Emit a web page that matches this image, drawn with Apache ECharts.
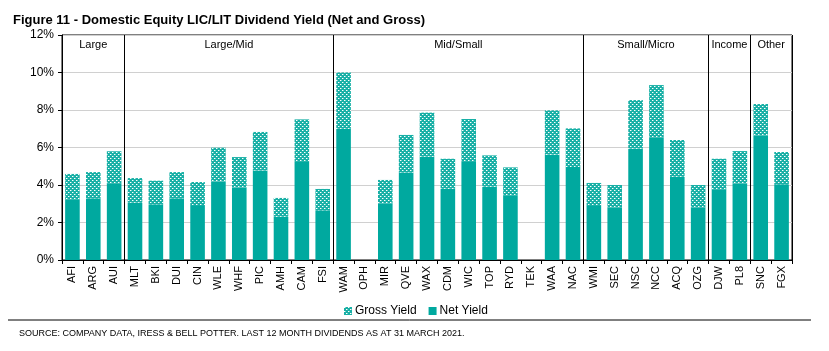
<!DOCTYPE html>
<html>
<head>
<meta charset="utf-8">
<script src="https://cdn.jsdelivr.net/npm/echarts@6/dist/echarts.min.js"></script>
<style>
  html, body { margin: 0; padding: 0; background: #fff; }
  #chart { width: 829px; height: 351px; }
</style>
</head>
<body>
<div id="chart"></div>
<script>
// tickers in chart order
var categories = ['AFI','ARG','AUI',
  'MLT','BKI','DUI','CIN','WLE','WHF','PIC','AMH','CAM','FSI',
  'WAM','OPH','MIR','QVE','WAX','CDM','WIC','TOP','RYD','TEK','WAA','NAC',
  'WMI','SEC','NSC','NCC','ACQ','OZG',
  'DJW','PL8',
  'SNC','FGX']

// net yield (%)
var netYield = [3.24, 3.29, 4.09,
  3.06, 2.97, 3.29, 2.93, 4.18, 3.86, 4.78, 2.31, 5.23, 2.65,
  7.00, 0, 3.02, 4.67, 5.51, 3.80, 5.23, 3.91, 3.45, 0, 5.62, 4.96,
  2.88, 2.79, 5.94, 6.52, 4.44, 2.79,
  3.77, 4.07,
  6.63, 4.04]

// gross yield (%), incl. franking
var grossYield = [4.59, 4.69, 5.80,
  4.37, 4.23, 4.69, 4.16, 5.99, 5.49, 6.83, 3.31, 7.50, 3.79,
  10.00, 0, 4.27, 6.67, 7.86, 5.40, 7.52, 5.58, 4.94, 0, 7.98, 7.02,
  4.11, 4.00, 8.53, 9.33, 6.40, 4.00,
  5.40, 5.81,
  8.32, 5.76]

// groups: [label, first ticker, last ticker]
var groups = [
  ['Large', 'AFI', 'AUI'],
  ['Large/Mid', 'MLT', 'FSI'],
  ['Mid/Small', 'WAM', 'NAC'],
  ['Small/Micro', 'WMI', 'OZG'],
  ['Income', 'DJW', 'PL8'],
  ['Other', 'SNC', 'FGX']
]

var yTicks = [0, 2, 4, 6, 8, 10, 12]

var TEAL = '#00A99F'

// stacked part = gross - net
var frankingPart = grossYield.map(function (g, i) {
  return +(g - netYield[i]).toFixed(2)
})

// index where each group starts (used for the divider lines)
var groupStarts = groups.slice(1).map(function (g) { return categories.indexOf(g[1]) })

// dotted pattern for gross yield
function makePattern() {
  var c = document.createElement('canvas')
  c.width = 4
  c.height = 4
  var ctx = c.getContext('2d')
  ctx.fillStyle = '#19b0a6'
  ctx.fillRect(0, 0, 4, 4)
  ctx.fillStyle = '#ffffff'
  ctx.fillRect(0, 0, 1, 1)
  ctx.fillRect(2, 2, 1, 1)
  ctx.fillStyle = '#7fd4cd'
  ctx.fillRect(1, 0, 1, 1)
  ctx.fillRect(3, 2, 1, 1)
  return c
}
var grossFill = { image: makePattern(), repeat: 'repeat' }

var chart = echarts.init(document.getElementById('chart'))

chart.setOption({
  animation: false,
  textStyle: { fontFamily: 'Liberation Sans, Arial, sans-serif' },
  title: [{
    text: 'Figure 11 - Domestic Equity LIC/LIT Dividend Yield (Net and Gross)',
    left: 8,
    top: 9,
    textStyle: { fontSize: 13, fontWeight: 'bold', color: '#000' }
  }, {
    text: 'SOURCE: COMPANY DATA, IRESS & BELL POTTER. LAST 12 MONTH DIVIDENDS AS AT 31 MARCH 2021.',
    left: 14,
    top: 324,
    textStyle: { fontSize: 9, fontWeight: 'normal', color: '#000' }
  }],
  graphic: [{
    type: 'line',
    shape: { x1: 8, y1: 320, x2: 811, y2: 320 },
    style: { stroke: '#000', lineWidth: 1 }
  }],
  legend: {
    left: 339,
    top: 300,
    itemWidth: 8,
    itemHeight: 8,
    itemGap: 12,
    textStyle: { fontSize: 12, color: '#000', padding: [0, 0, 0, -2] },
    data: [
      { name: 'Gross Yield', icon: 'rect' },
      { name: 'Net Yield', icon: 'rect' }
    ]
  },
  grid: {
    left: 62,
    right: 37,
    top: 35,
    bottom: 91,
    show: true,
    borderColor: '#000',
    borderWidth: 1
  },
  xAxis: {
    type: 'category',
    data: categories,
    axisLine: { lineStyle: { color: '#000', width: 1 } },
    axisTick: { show: true, length: 4, lineStyle: { color: '#000' } },
    axisLabel: { rotate: 90, fontSize: 11, color: '#000', margin: 6, interval: 0 },
    splitLine: {
      show: true,
      interval: function (index) { return groupStarts.indexOf(index) >= 0 },
      lineStyle: { color: '#000', width: 1 }
    }
  },
  yAxis: {
    type: 'value',
    min: yTicks[0],
    max: yTicks[yTicks.length - 1],
    interval: 2,
    axisLine: { show: true, lineStyle: { color: '#000' } },
    axisTick: { show: true, length: 4, lineStyle: { color: '#000' } },
    axisLabel: { fontSize: 12, color: '#000', margin: 8, formatter: '{value}%' },
    splitLine: { lineStyle: { color: '#d0d0d0', width: 1 } }
  },
  series: [{
    name: 'Net Yield',
    type: 'bar',
    stack: 'yield',
    barWidth: '70%',
    itemStyle: { color: TEAL },
    data: netYield,
    markArea: {
      silent: true,
      itemStyle: { color: 'transparent' },
      label: { position: 'insideTop', distance: 4, fontSize: 11, color: '#000' },
      data: groups.map(function (g) {
        return [{ name: g[0], xAxis: g[1], yAxis: 12 }, { xAxis: g[2], yAxis: 0 }]
      })
    }
  }, {
    name: 'Gross Yield',
    type: 'bar',
    stack: 'yield',
    barWidth: '70%',
    itemStyle: { color: grossFill },
    data: frankingPart
  }]
})
</script>
</body>
</html>
